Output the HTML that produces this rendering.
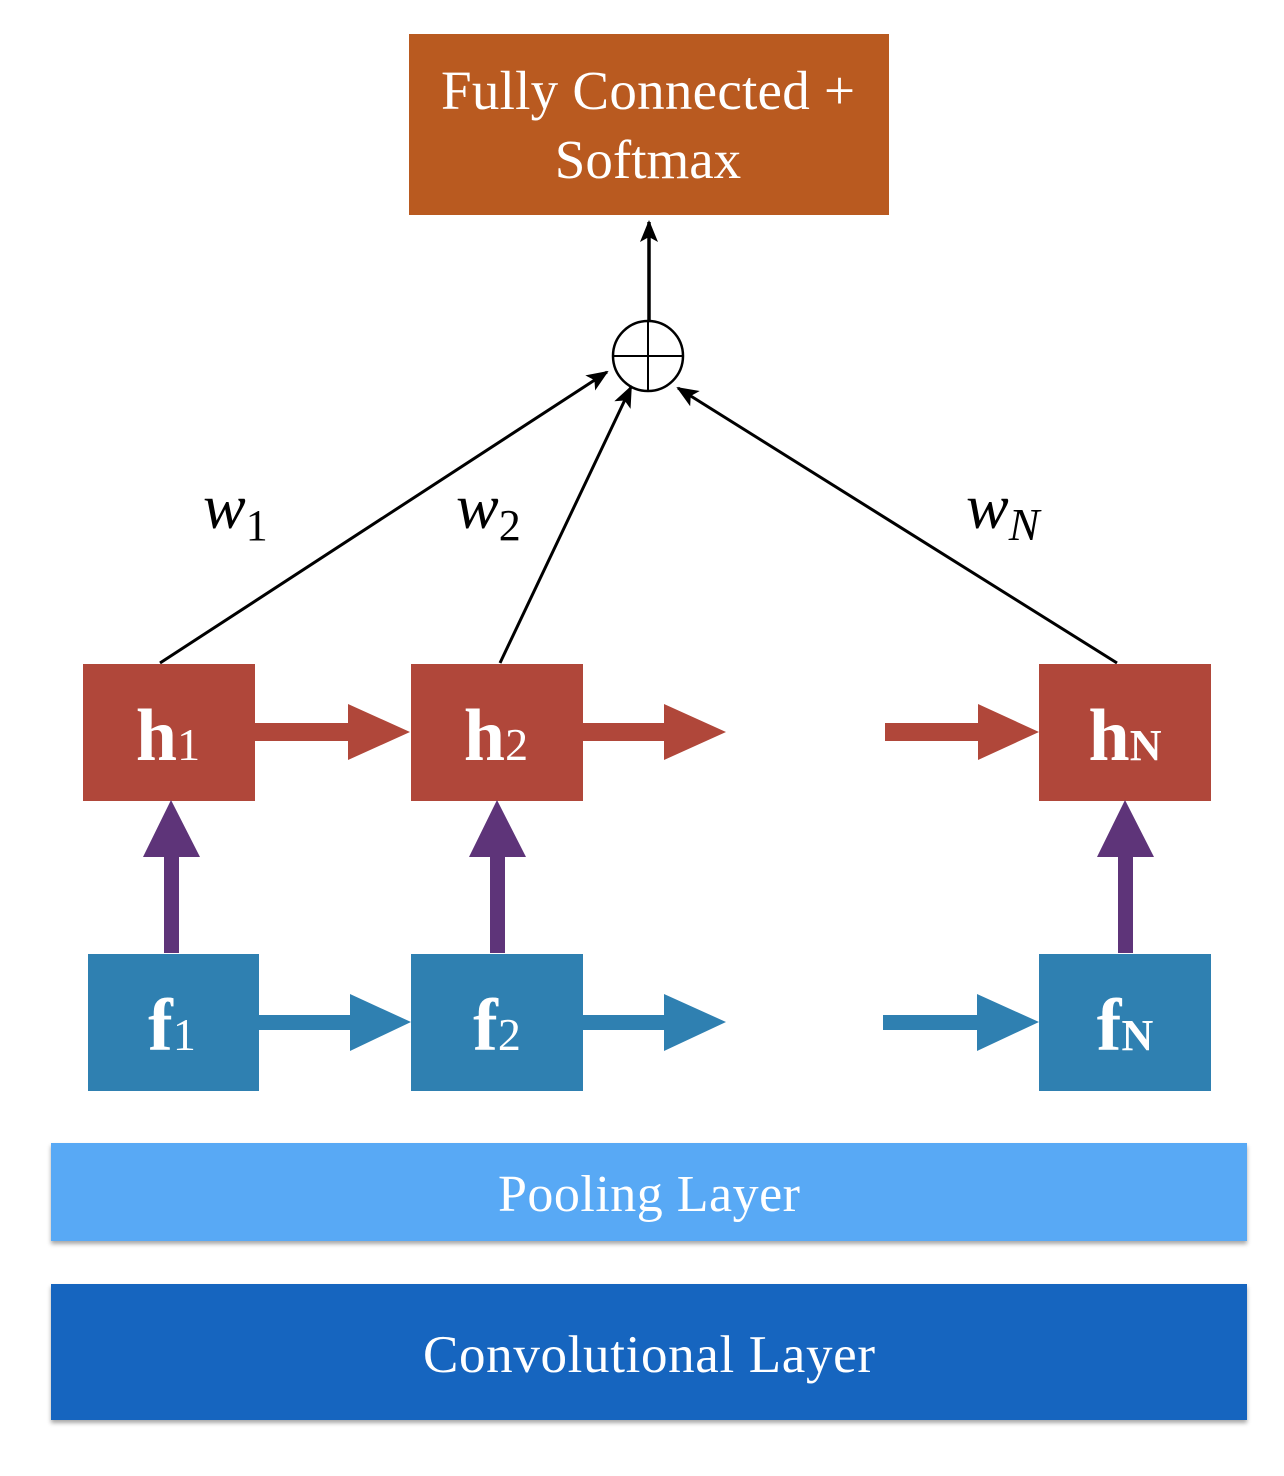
<!DOCTYPE html>
<html><head><meta charset="utf-8"><style>
html,body{margin:0;padding:0;background:#fff;}
svg{display:block;}
text{font-family:"Liberation Serif",serif;}
</style></head><body>
<svg width="1284" height="1476" viewBox="0 0 1284 1476">
<defs>
<marker id="ah2" markerWidth="22" markerHeight="22" refX="20" refY="11" orient="auto" markerUnits="userSpaceOnUse" viewBox="0 0 22 22"><path d="M0,2 L22,11 L0,20 L5,11 z" fill="#000"/></marker>
<filter id="sh" x="-5%" y="-20%" width="110%" height="150%"><feDropShadow dx="0" dy="3" stdDeviation="2" flood-color="#000" flood-opacity="0.35"/></filter>
</defs>

<g>
<rect x="409" y="34" width="480" height="181" fill="#B95A20"/>
<text x="648" y="109" font-size="55" fill="#fff" text-anchor="middle" textLength="414">Fully Connected +</text>
<text x="648" y="178" font-size="55" fill="#fff" text-anchor="middle">Softmax</text>
</g>

<line x1="649" y1="320" x2="649" y2="222" stroke="#000" stroke-width="3.5" marker-end="url(#ah2)"/>
<g>
<circle cx="648" cy="356" r="35" fill="#fff" stroke="#000" stroke-width="2.5"/>
<line x1="613" y1="356" x2="683" y2="356" stroke="#000" stroke-width="2"/>
<line x1="648" y1="321" x2="648" y2="391" stroke="#000" stroke-width="2"/>
</g>

<line x1="160" y1="663" x2="607" y2="372" stroke="#000" stroke-width="3" marker-end="url(#ah2)"/>
<line x1="500" y1="663" x2="631" y2="387" stroke="#000" stroke-width="3" marker-end="url(#ah2)"/>
<line x1="1117" y1="663" x2="678" y2="388" stroke="#000" stroke-width="3" marker-end="url(#ah2)"/>

<text x="203" y="528" font-size="64" font-style="italic">w<tspan font-size="44" font-style="normal" dy="12">1</tspan></text>
<text x="456" y="528" font-size="64" font-style="italic">w<tspan font-size="44" font-style="normal" dy="12">2</tspan></text>
<text x="966" y="528" font-size="64" font-style="italic">w<tspan font-size="46" dy="12">N</tspan></text>

<g fill="#B0473A">
<rect x="83" y="664" width="172" height="137"/>
<rect x="411" y="664" width="172" height="137"/>
<rect x="1039" y="664" width="172" height="137"/>
<path d="M255,723 H348 V704 L410,732 L348,760 V741 H255 z"/>
<path d="M583,723 H664 V704 L726,732 L664,760 V741 H583 z"/>
<path d="M885,723 H978 V704 L1039,732 L978,760 V741 H885 z"/>
</g>
<g fill="#fff" text-anchor="middle">
<text x="168" y="760" font-size="74" font-weight="bold">h<tspan font-size="46" font-weight="normal">1</tspan></text>
<text x="496" y="760" font-size="74" font-weight="bold">h<tspan font-size="46" font-weight="normal">2</tspan></text>
<text x="1125" y="760" font-size="74" font-weight="bold">h<tspan font-size="44">N</tspan></text>
</g>

<g fill="#5E3479">
<path d="M164,953 V857 H143 L171,800 L200,857 H179 V953 z"/>
<path d="M490,953 V857 H469 L497,800 L526,857 H505 V953 z"/>
<path d="M1118,953 V857 H1097 L1125,800 L1154,857 H1133 V953 z"/>
</g>

<g fill="#2F80B1">
<rect x="88" y="954" width="171" height="137"/>
<rect x="411" y="954" width="172" height="137"/>
<rect x="1039" y="954" width="172" height="137"/>
<path d="M259,1015 H350 V994 L411,1022 L350,1051 V1030 H259 z"/>
<path d="M583,1015 H664 V994 L726,1022 L664,1051 V1030 H583 z"/>
<path d="M883,1015 H977 V994 L1039,1022 L977,1051 V1030 H883 z"/>
</g>
<g fill="#fff" text-anchor="middle">
<text x="172" y="1050" font-size="74" font-weight="bold">f<tspan font-size="46" font-weight="normal">1</tspan></text>
<text x="497" y="1050" font-size="74" font-weight="bold">f<tspan font-size="46" font-weight="normal">2</tspan></text>
<text x="1125" y="1050" font-size="74" font-weight="bold">f<tspan font-size="44">N</tspan></text>
</g>

<g>
<rect x="51" y="1143" width="1196" height="98" fill="#58A9F5" filter="url(#sh)"/>
<text x="649" y="1211" font-size="52" fill="#fff" text-anchor="middle" textLength="302">Pooling Layer</text>
</g>
<g>
<rect x="51" y="1284" width="1196" height="136" fill="#1265BF" filter="url(#sh)"/>
<text x="649" y="1372" font-size="53" fill="#fff" text-anchor="middle" textLength="452">Convolutional Layer</text>
</g>
</svg>
</body></html>
